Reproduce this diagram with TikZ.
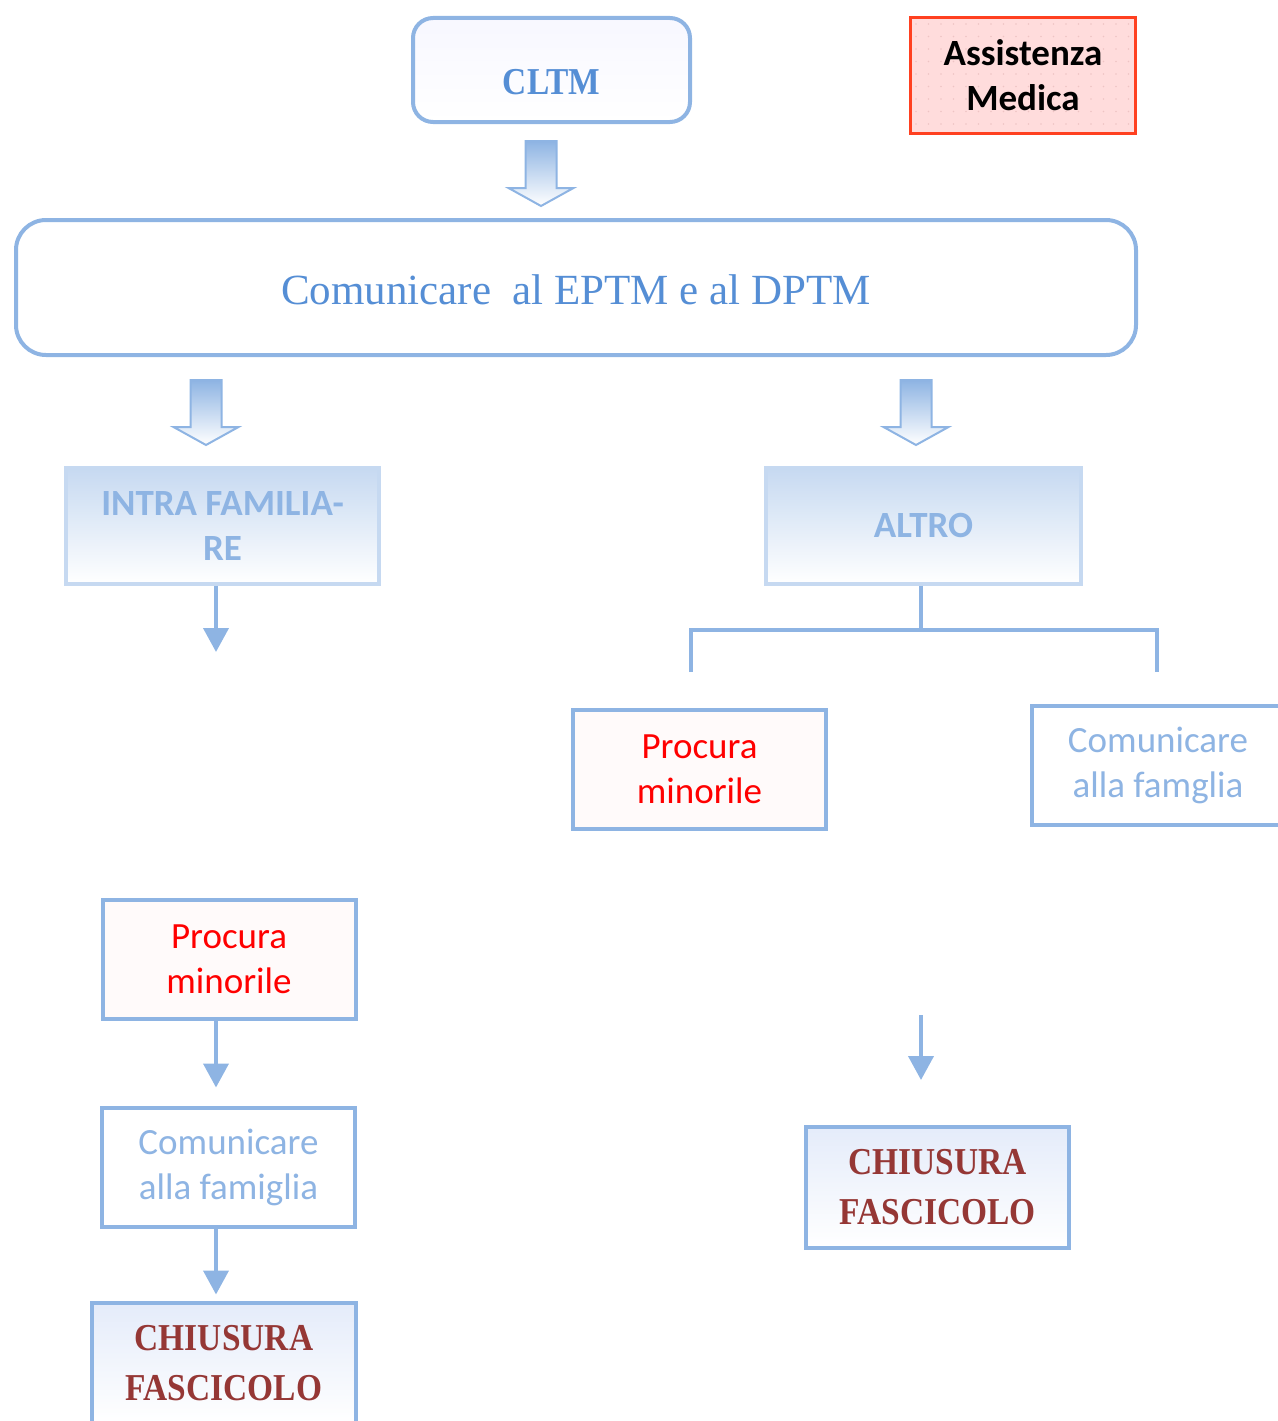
\documentclass[tikz,border=0pt]{standalone}
\usepackage{fontspec}
\setmainfont{Liberation Serif}
\newfontfamily\calibri{Carlito}
\newfontfamily\serifcond[FakeStretch=0.88]{Liberation Serif}
\usetikzlibrary{arrows.meta,calc,backgrounds}
\definecolor{bordblue}{HTML}{8EB4E3}
\definecolor{txtblue}{HTML}{558ED5}
\definecolor{paleblue}{HTML}{C6D9F1}
\definecolor{darkred}{HTML}{953735}
\definecolor{assistbord}{HTML}{FF4020}
\definecolor{assistfill}{HTML}{FFDCDC}
\definecolor{dotcol}{HTML}{EEC4C4}
\tikzset{
  roundbox/.style={draw=bordblue, line width=4pt, inner sep=0pt, align=center},
  plainbox/.style={draw=bordblue, line width=4pt, inner sep=0pt, align=center,
    minimum width=253pt, minimum height=119pt},
  palebox/.style={draw=paleblue, line width=4pt, inner sep=0pt, align=center,
    top color=paleblue, bottom color=white, text=bordblue,
    font=\calibri\bfseries\fontsize{37}{45}\selectfont,
    minimum height=116pt},
  calfont/.style={font=\calibri\fontsize{37}{45}\selectfont},
  chiusbox/.style={draw=bordblue, line width=4pt, inner sep=0pt, align=center,
    top color=blue!5!paleblue!40, bottom color=white, text=darkred,
    font=\serifcond\bfseries\fontsize{38}{50}\selectfont,
    minimum width=263pt, minimum height=121pt},
  conn/.style={draw=bordblue, line width=4pt},
  connarrow/.style={conn, -{Triangle[width=25pt,length=24pt]}},
  blockarrow/.style={draw=bordblue, line width=2pt, line join=miter,
    top color=bordblue, bottom color=white},
}
\newcommand\blockarr[2]{%
  \draw[blockarrow] (#1-15.5,#2) -- (#1+15.5,#2) -- (#1+15.5,#2+47)
    -- (#1+32.5,#2+47) -- (#1,#2+65) -- (#1-32.5,#2+47) -- (#1-15.5,#2+47) -- cycle;}
\begin{document}
\begin{tikzpicture}[x=1pt,y=-1pt]
\useasboundingbox (0,0) rectangle (1277,1421);

% top boxes
\node[roundbox, rounded corners=20pt, top color=blue!3!white, bottom color=white,
  minimum width=277pt, minimum height=104pt,
  text=txtblue, font=\serifcond\bfseries\fontsize{38}{42}\selectfont]
  (cltm) at (551.5,70) {\raisebox{-24.5pt}[0pt][0pt]{CLTM}};

\node[draw=assistbord, line width=3pt, inner sep=0pt, align=center,
  minimum width=225pt, minimum height=115pt,
  font=\calibri\bfseries\fontsize{37}{45}\selectfont]
  (assist) at (1023,75.5) {Assistenza\\Medica};
\begin{scope}[on background layer]
  \fill[assistfill] (assist.south west) rectangle (assist.north east);
  \foreach \i in {0,...,17}
    \foreach \j in {0,...,8}
      \fill[dotcol] (916+\i*12.5,24+\j*12.5) circle (0.9pt);
\end{scope}

\blockarr{541}{141}

\node[roundbox, rounded corners=30pt, fill=white,
  minimum width=1120pt, minimum height=135pt,
  text=txtblue, font=\fontsize{43}{50}\selectfont]
  (comm) at (576,287.5) {\raisebox{-16.5pt}[0pt][0pt]{Comunicare \ al EPTM e al DPTM}};

\blockarr{206}{380}
\blockarr{916}{380}

% second level
\node[palebox, minimum width=313pt] (intra) at (222.5,525.5) {INTRA FAMILIA-\\RE};
\node[palebox, minimum width=315pt] (altro) at (923.5,525.5) {ALTRO};

\coordinate (ia) at (216,652);
\draw[connarrow] (intra.south -| ia) -- (ia);

% ALTRO tree
\coordinate (tj) at (921,630);
\coordinate (tl) at (691,672);
\coordinate (tr) at (1157,672);
\draw[conn] (altro.south -| tj) -- (tj);
\draw[conn] (tl) |- (tj) -| (tr);

% right branch
\node[plainbox, calfont, fill=red!2!white, text=red] (procR) at (699.5,769.5) {Procura\\minorile};
\node[plainbox, calfont, fill=white, minimum width=252pt, text=bordblue] (famR) at (1158,765) {Comunicare\\alla famglia};

\coordinate (ra1) at (921,1015);
\coordinate (ra2) at (921,1080);
\draw[connarrow] (ra1) -- (ra2);

\node[chiusbox] (chR) at (937.5,1187) {CHIUSURA\\FASCICOLO};

% left branch
\node[plainbox, calfont, fill=red!2!white, text=red] (procL) at (229,959) {Procura\\minorile};
\node[plainbox, calfont, fill=white, text=bordblue] (famL) at (228.5,1167) {Comunicare\\alla famiglia};
\node[chiusbox, minimum width=264pt] (chL) at (224,1363) {CHIUSURA\\FASCICOLO};

\coordinate (lx) at (216,0);
\draw[connarrow, shorten >=18pt] (procL.south -| lx) -- (famL.north -| lx);
\draw[connarrow, shorten >=6pt] (famL.south -| lx) -- (chL.north -| lx);
\end{tikzpicture}
\end{document}
